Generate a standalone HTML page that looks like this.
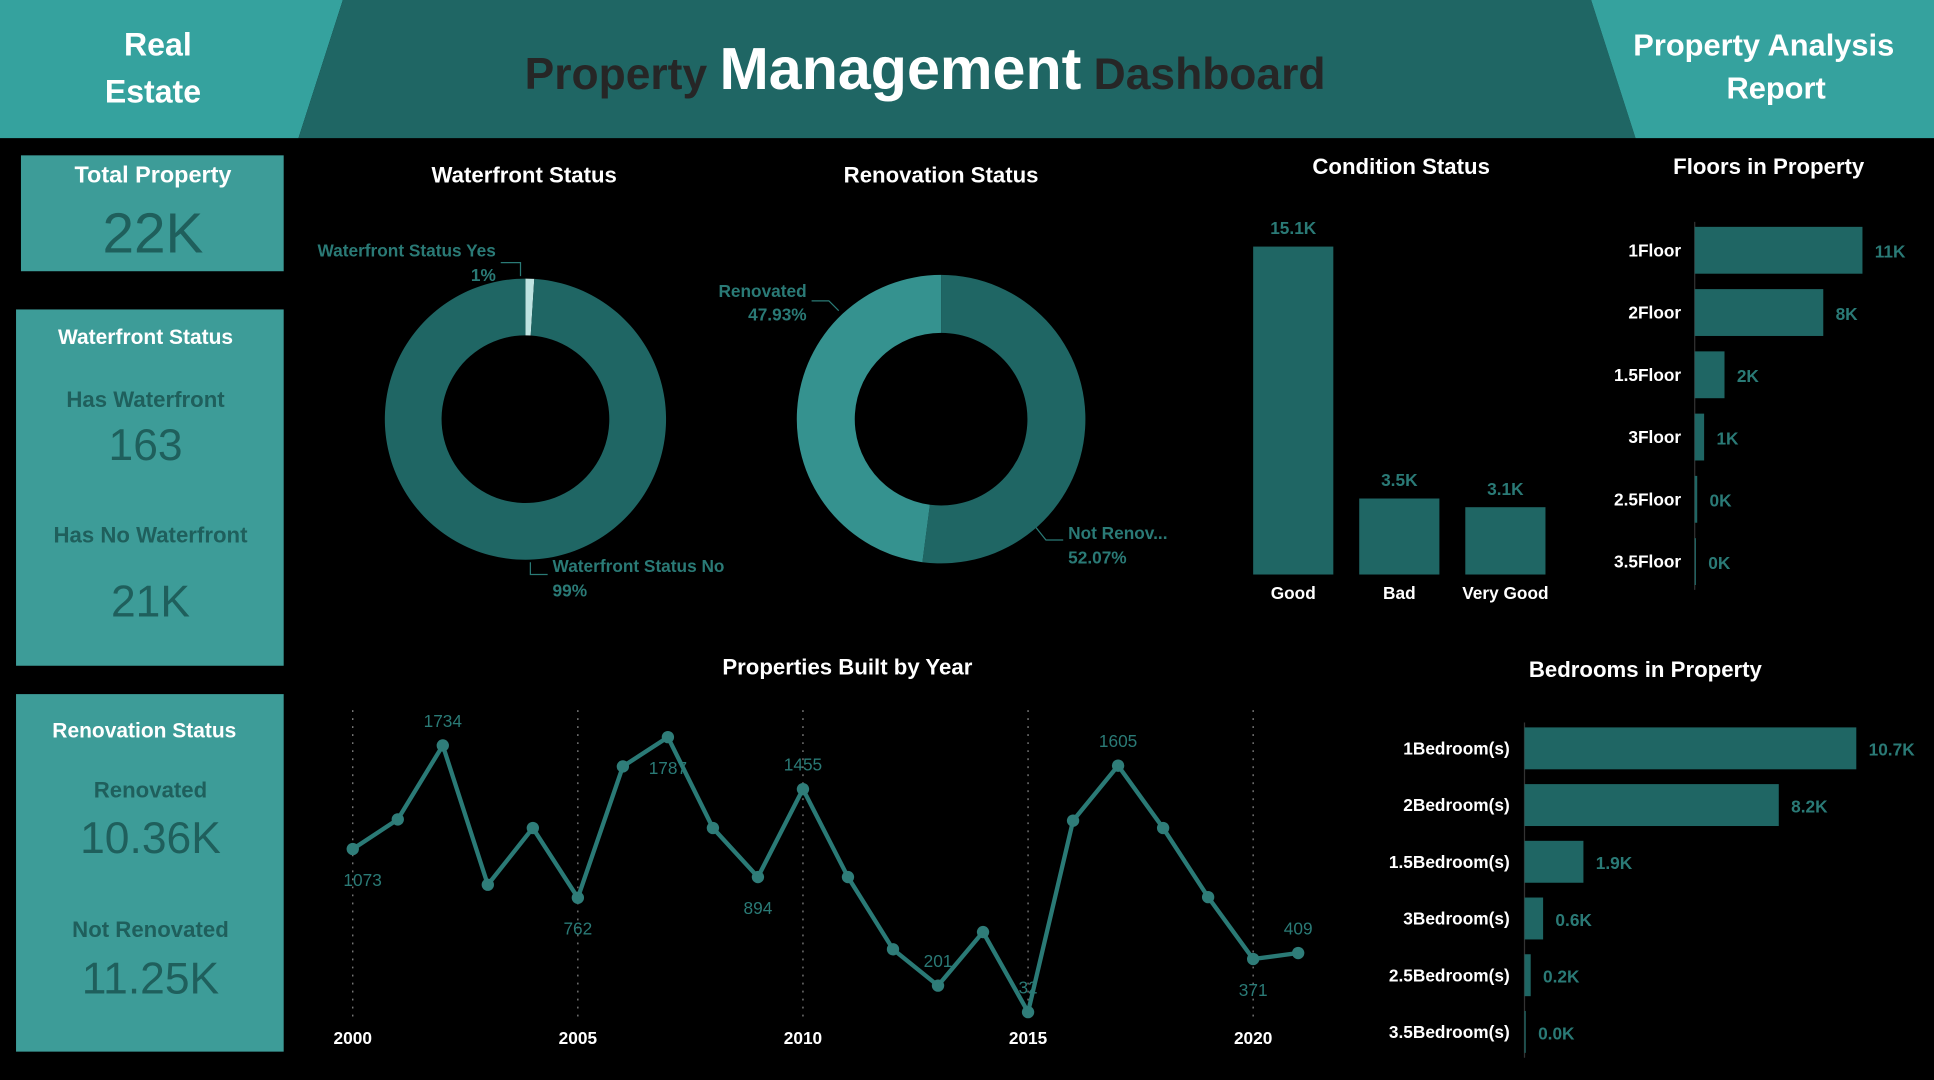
<!DOCTYPE html>
<html><head><meta charset="utf-8"><style>
html,body{margin:0;padding:0;background:#000;}
svg{display:block;font-family:"Liberation Sans",sans-serif;}
.w{fill:#fff;font-weight:bold;}
.d{fill:#1f5f5c;}
.lab{fill:#2a7a76;font-size:14px;font-weight:bold;}
</style></head><body>
<svg id="s" width="1934" height="1080" viewBox="0 0 1568 876" preserveAspectRatio="none">
<rect width="1568" height="876" fill="#000"/>
<polygon points="0,0 278,0 242,112 0,112" fill="#35a29e"/>
<polygon points="278,0 1290,0 1326,112 242,112" fill="#1f6664"/>
<polygon points="1290,0 1568,0 1568,112 1326,112" fill="#35a29e"/>
<text x="128" y="45" text-anchor="middle" class="w" font-size="26">Real</text>
<text x="124" y="83" text-anchor="middle" class="w" font-size="26">Estate</text>
<text x="750" y="72" text-anchor="middle" font-weight="bold"><tspan fill="#262626" font-size="36">Property </tspan><tspan fill="#fff" font-size="48">Management</tspan><tspan fill="#262626" font-size="36"> Dashboard</tspan></text>
<text x="1430" y="45" text-anchor="middle" class="w" font-size="25">Property Analysis</text>
<text x="1440" y="80" text-anchor="middle" class="w" font-size="25">Report</text>

<g>
<rect x="17" y="126" width="213" height="94" fill="#3d9c98"/>
<text x="124" y="148" text-anchor="middle" class="w" font-size="19">Total Property</text>
<text x="124" y="205" text-anchor="middle" class="d" font-size="46">22K</text>
</g>
<g>
<rect x="13" y="251" width="217" height="289" fill="#3d9c98"/>
<text x="118" y="279" text-anchor="middle" class="w" font-size="17">Waterfront Status</text>
<text x="118" y="330" text-anchor="middle" class="d" font-size="18" font-weight="bold">Has Waterfront</text>
<text x="118" y="373" text-anchor="middle" class="d" font-size="36">163</text>
<text x="122" y="440" text-anchor="middle" class="d" font-size="18" font-weight="bold">Has No Waterfront</text>
<text x="122" y="500" text-anchor="middle" class="d" font-size="36">21K</text>
</g>
<g>
<rect x="13" y="563" width="217" height="290" fill="#3d9c98"/>
<text x="117" y="598" text-anchor="middle" class="w" font-size="17">Renovation Status</text>
<text x="122" y="647" text-anchor="middle" class="d" font-size="18" font-weight="bold">Renovated</text>
<text x="122" y="692" text-anchor="middle" class="d" font-size="36">10.36K</text>
<text x="122" y="760" text-anchor="middle" class="d" font-size="18" font-weight="bold">Not Renovated</text>
<text x="122" y="806" text-anchor="middle" class="d" font-size="36">11.25K</text>
</g>

<text x="425" y="148" text-anchor="middle" class="w" font-size="18">Waterfront Status</text>
<text x="763" y="148" text-anchor="middle" class="w" font-size="18">Renovation Status</text>
<text x="1136" y="141" text-anchor="middle" class="w" font-size="18">Condition Status</text>
<text x="1434" y="141" text-anchor="middle" class="w" font-size="18">Floors in Property</text>
<text x="687" y="547" text-anchor="middle" class="w" font-size="18">Properties Built by Year</text>
<text x="1334" y="549" text-anchor="middle" class="w" font-size="18">Bedrooms in Property</text>

<g id="donuts"></g>
<g id="cond"></g>
<g id="floors"></g>
<g id="beds"></g>
<g id="line"></g>
</svg>
<script>
const NS="http://www.w3.org/2000/svg";
function mk(p,t,a,txt){const e=document.createElementNS(NS,t);for(const k in a)e.setAttribute(k,a[k]);if(txt!=null)e.textContent=txt;p.appendChild(e);return e;}

const waterLabels=["Waterfront Status Yes","Waterfront Status No"];
const waterValues=[1,99];
const renoLabels=["Renovated","Not Renovated"];
const renoValues=[47.93,52.07];

const condCats=["Good","Bad","Very Good"];
const condVals=[15.1,3.5,3.1];
const condText=["15.1K","3.5K","3.1K"];

const floorCats=["1Floor","2Floor","1.5Floor","3Floor","2.5Floor","3.5Floor"];
const floorVals=[10.7,8.2,1.9,0.6,0.16,0.008];
const floorText=["11K","8K","2K","1K","0K","0K"];

const bedCats=["1Bedroom(s)","2Bedroom(s)","1.5Bedroom(s)","3Bedroom(s)","2.5Bedroom(s)","3.5Bedroom(s)"];
const bedVals=[10.7,8.2,1.9,0.6,0.2,0.0];
const bedText=["10.7K","8.2K","1.9K","0.6K","0.2K","0.0K"];

const years=[2000,2001,2002,2003,2004,2005,2006,2007,2008,2009,2010,2011,2012,2013,2014,2015,2016,2017,2018,2019,2020,2021];
const counts=[1073,1262,1734,845,1207,762,1600,1787,1207,894,1455,894,433,201,543,32,1254,1605,1207,766,371,409];
const labeledYears=[2000,2002,2005,2007,2009,2010,2013,2015,2017,2020,2021];
const yearTicks=[2000,2005,2010,2015,2020];

const dg=document.getElementById('donuts');
function donut(cx,cy,ro,ri,vals,cols,name){
  const tot=vals.reduce((a,b)=>a+b,0);let a0=0;
  vals.forEach((v,i)=>{
    const a1=a0+v/tot*2*Math.PI;
    const p=(a,r)=>[cx+r*Math.sin(a),cy-r*Math.cos(a)];
    const [x1,y1]=p(a0,ro),[x2,y2]=p(a1,ro),[x3,y3]=p(a1,ri),[x4,y4]=p(a0,ri);
    const lg=(a1-a0)>Math.PI?1:0;
    const e=mk(dg,'path',{d:`M${x1},${y1}A${ro},${ro} 0 ${lg} 1 ${x2},${y2}L${x3},${y3}A${ri},${ri} 0 ${lg} 0 ${x4},${y4}Z`,fill:cols[i]});
    
    
    a0=a1;});
}
donut(426,340,114,68,waterValues,["#bfe3e1","#1f6664"],'waterfront');
donut(763,340,117,70,[renoValues[1],renoValues[0]],["#1f6664","#35928f"],'renovation');
function lbl(x,y,t,anchor){const e=mk(dg,'text',{x:x,y:y,'text-anchor':anchor||'start',class:'lab'},t);}
lbl(402,208,waterLabels[0],'end');lbl(402,228,waterValues[0]+'%','end');
mk(dg,'polyline',{points:'406,213 422,213 422,224',fill:'none',stroke:'#2a7a76'});
lbl(448,464,waterLabels[1]);lbl(448,484,waterValues[1]+'%');
mk(dg,'polyline',{points:'430,456 430,466 444,466',fill:'none',stroke:'#2a7a76'});
lbl(654,241,renoLabels[0],'end');lbl(654,260,renoValues[0].toFixed(2)+'%','end');
mk(dg,'polyline',{points:'658,244 672,244 680,252',fill:'none',stroke:'#2a7a76'});
lbl(866,437,'Not Renov...');lbl(866,457,renoValues[1].toFixed(2)+'%');
mk(dg,'polyline',{points:'840,428 848,438 862,438',fill:'none',stroke:'#2a7a76'});

const cg=document.getElementById('cond');
const cBase=466,cTop=200,cMax=condVals[0],cw=65;
condVals.forEach((v,i)=>{
  const h=v/cMax*(cBase-cTop);const x=1016+i*86;
  const r=mk(cg,'rect',{x:x,y:cBase-h,width:cw,height:h,fill:'#1f6664'});
  
  
  mk(cg,'text',{x:x+cw/2,y:cBase-h-10,'text-anchor':'middle',class:'lab'},condText[i]);
  const t=mk(cg,'text',{x:x+cw/2,y:486,'text-anchor':'middle',fill:'#fff','font-size':14,'font-weight':'bold'},condCats[i]);
  
  
});

function hbars(gid,cats,vals,txt,x0,maxW,maxV,y0,step,bh,lx,name){
  const g=document.getElementById(gid);
  mk(g,'line',{x1:x0,x2:x0,y1:y0-bh/2-4,y2:y0+step*(cats.length-1)+bh/2+4,stroke:'#333'});
  cats.forEach((c,i)=>{
    const y=y0+i*step;const w=Math.max(vals[i]/maxV*maxW,1);
    const r=mk(g,'rect',{x:x0,y:y-bh/2,width:w,height:bh,fill:'#1f6664'});
    
    
    const t=mk(g,'text',{x:lx,y:y+5,'text-anchor':'end',fill:'#fff','font-size':14,'font-weight':'bold'},c);
    
    
    mk(g,'text',{x:x0+w+10,y:y+6,class:'lab'},txt[i]);
  });
}
hbars('floors',floorCats,floorVals,floorText,1374,136,floorVals[0],203,50.5,38,1363,'floors');
hbars('beds',bedCats,bedVals,bedText,1236,269,bedVals[0],607,46,34,1224,'bedrooms');

const lg=document.getElementById('line');
const X=y=>286+(y-2000)*36.5;
const Y=v=>825-v*(84/661);
const belowYears=[2000,2005,2007,2009,2020];
yearTicks.forEach(t=>{
  mk(lg,'line',{x1:X(t),x2:X(t),y1:576,y2:828,stroke:'#888','stroke-dasharray':'1.5 5'});
  const e=mk(lg,'text',{x:X(t),y:847,'text-anchor':'middle',fill:'#fff','font-size':14,'font-weight':'bold'},t);
  
  
});
const pl=mk(lg,'polyline',{points:years.map((y,i)=>X(y)+','+Y(counts[i])).join(' '),fill:'none',stroke:'#2a7a76','stroke-width':3.5,'stroke-linejoin':'round'});


years.forEach((y,i)=>{
  const c=mk(lg,'circle',{cx:X(y),cy:Y(counts[i]),r:5,fill:'#2f7d79'});
  
  
  if(labeledYears.includes(y)){
    const below=belowYears.includes(y);
    const dx=(y===2000?8:0);
    const t=mk(lg,'text',{x:X(y)+dx,y:Y(counts[i])+(below?30:-15),'text-anchor':'middle',fill:'#2a7a76','font-size':14},counts[i]);
    
    
  }
});
</script>
</body></html>
